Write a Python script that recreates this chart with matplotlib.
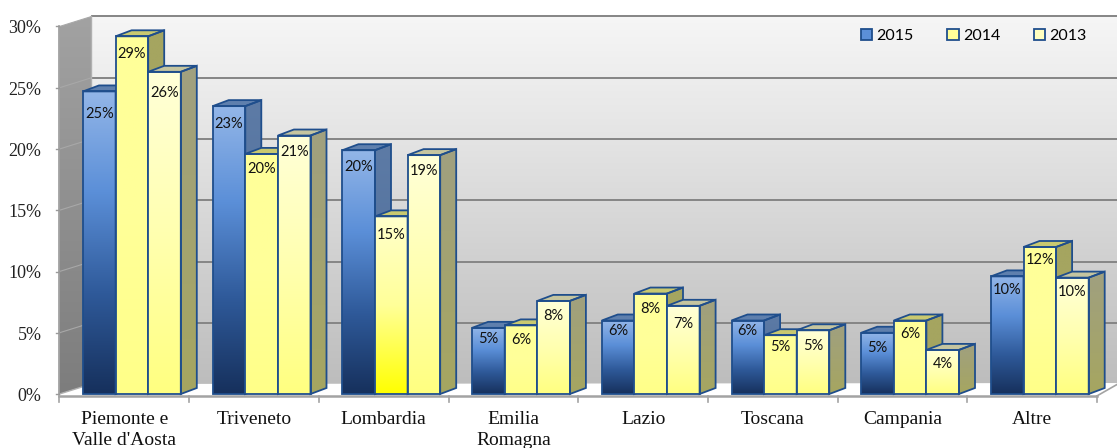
import numpy as np
import matplotlib
matplotlib.use('Agg')
import matplotlib.pyplot as plt
from matplotlib.colors import LinearSegmentedColormap
from matplotlib.patches import Polygon, Patch

# dati
categorie = ['Piemonte e\nValle d\'Aosta', 'Triveneto', 'Lombardia', 'Emilia\nRomagna',
             'Lazio', 'Toscana', 'Campania', 'Altre']
anni = ['2015', '2014', '2013']
val_2015 = [24.7, 23.5, 19.9, 5.4, 6.0, 6.0, 5.0, 9.6]
val_2014 = [29.2, 19.6, 14.5, 5.6, 8.2, 4.8, 6.0, 12.0]
val_2013 = [26.3, 21.1, 19.5, 7.6, 7.2, 5.2, 3.6, 9.5]
etich_2015 = ['25%', '23%', '20%', '5%', '6%', '6%', '5%', '10%']
etich_2014 = ['29%', '20%', '15%', '6%', '8%', '5%', '6%', '12%']
etich_2013 = ['26%', '21%', '19%', '8%', '7%', '5%', '4%', '10%']
tick_y = [0, 5, 10, 15, 20, 25, 30]

# distanza delle etichette dalla cima della barra, in pixel
scost_2015 = [23, 18, 17, 11, 10, 10, 15, 14]
scost_2014 = [18, 15, 19, 15, 15, 12, 13, 13]
scost_2013 = [21, 16, 16, 15, 18, 16, 14, 14]

W, H = 1117, 448
PX_CAT = 129.7    # pixel per categoria
PX_PCT = 12.25    # pixel per punto percentuale
X0, Y0 = 59.5, 394.0
FONDO_X, FONDO_Y = 32 / PX_CAT, 10 / PX_PCT   # profondita' pareti
LATO_X, LATO_Y = 16 / PX_CAT, 6 / PX_PCT      # profondita' barre
BAR_X0, BAR_W = 23.5 / PX_CAT, 32.6 / PX_CAT
BORDO = '#1f4e8c'

fig = plt.figure(figsize=(W / 100, H / 100), dpi=100)
ax = fig.add_axes([0, 0, 1, 1])
ax.axis('off')
lim_x = (-X0 / PX_CAT, (W - X0) / PX_CAT)
lim_y = ((Y0 - H) / PX_PCT, Y0 / PX_PCT)


def sfuma(vertici, colori, z):
    # poligono riempito con una sfumatura verticale, primo colore in alto
    vertici = np.array(vertici)
    cmap = LinearSegmentedColormap.from_list('s', colori)
    est = [vertici[:, 0].min(), vertici[:, 0].max(), vertici[:, 1].min(), vertici[:, 1].max()]
    img = ax.imshow(np.linspace(0, 1, 256).reshape(-1, 1), cmap=cmap, extent=est,
                    aspect='auto', zorder=z, vmin=0, vmax=1, interpolation='bilinear')
    pol = Polygon(vertici, closed=True, fc='none', ec='none', transform=ax.transData)
    ax.add_patch(pol)
    img.set_clip_path(pol)


def colonna(x, v, stili, z):
    # una barra: fronte, lato e faccia superiore
    fronte, lato, sopra = stili
    x1 = x + BAR_W
    sfuma([(x1, 0), (x1 + LATO_X, LATO_Y), (x1 + LATO_X, v + LATO_Y), (x1, v)], lato, z)
    sfuma([(x, v), (x1, v), (x1 + LATO_X, v + LATO_Y), (x + LATO_X, v + LATO_Y)], [sopra, sopra], z)
    sfuma([(x, 0), (x1, 0), (x1, v), (x, v)], fronte, z + 0.1)
    for pts in ([(x1, 0), (x1 + LATO_X, LATO_Y), (x1 + LATO_X, v + LATO_Y), (x1, v)],
                [(x, v), (x1, v), (x1 + LATO_X, v + LATO_Y), (x + LATO_X, v + LATO_Y)],
                [(x, 0), (x1, 0), (x1, v), (x, v)]):
        ax.add_patch(Polygon(pts, closed=True, fc='none', ec=BORDO, lw=1.3, zorder=z + 0.2))


n = len(categorie)
fine = lim_x[1] + 0.1

# pareti e pavimento
sfuma([(FONDO_X, FONDO_Y), (fine, FONDO_Y), (fine, 30 + FONDO_Y), (FONDO_X, 30 + FONDO_Y)],
      ['#f6f6f6', '#e4e4e4', '#d0d0d0', '#bdbdbd'], 1)
sfuma([(0, 0), (FONDO_X, FONDO_Y), (FONDO_X, 30 + FONDO_Y), (0, 30)], ['#a2a2a2', '#7d7d7d'], 1)
ax.add_patch(Polygon([(0, 0), (n, 0), (fine, FONDO_Y * 1.1), (FONDO_X, FONDO_Y)],
                     closed=True, fc='white', ec='none', zorder=1.5))
for t in tick_y[1:]:
    ax.plot([FONDO_X, fine], [t + FONDO_Y, t + FONDO_Y], color='#858585', lw=1.4, zorder=2)
    ax.plot([0, FONDO_X], [t, t + FONDO_Y], color='#a8a8a8', lw=0.8, zorder=2)
ax.plot([0, FONDO_X, FONDO_X], [0, FONDO_Y, 30 + FONDO_Y], color='#b0b0b0', lw=1, zorder=2)

# assi
ax.plot([0, 0], [0, 30], color='#9a9a9a', lw=1.2, zorder=2)
ax.plot([0, n], [-0.15, -0.15], color='#a3a3a3', lw=1.8, zorder=2)
ax.plot([n, n + 0.16], [-0.15, FONDO_Y], color='#a3a3a3', lw=1.2, zorder=2)
for i in range(n + 1):
    ax.plot([i, i], [-0.15, -0.65], color='#a3a3a3', lw=1.2, zorder=2)
for t in tick_y:
    ax.plot([-0.03, 0], [t, t], color='#9a9a9a', lw=1, zorder=2)
    ax.text(-18 / PX_CAT, t - 0.2, '%d%%' % t, ha='right', va='center', fontsize=13,
            family='Liberation Serif', color='#222222', zorder=6)
for i, c in enumerate(categorie):
    ax.text(i + 0.5, -1.4, c, ha='center', va='top', fontsize=14, linespacing=1.3,
            family='Liberation Serif', color='#111111', zorder=6)

# barre
blu = (['#93b6e8', '#5b8fd8', '#2f5a9a', '#16305c'], ['#5d7ba6', '#4a6a96'], '#5f80ae')
giallo = (['#ffff99', '#ffff99', '#ffff88'], ['#a5a560', '#a5a560'], '#c9c970')
giallo_forte = (['#ffffcc', '#ffff99', '#ffff00'], ['#a5a560', '#a5a560'], '#c9c970')
chiaro = (['#ffffd8', '#ffffb0', '#ffff80'], ['#a0a080', '#a6a660'], '#c5c5a0')
serie = [(val_2015, etich_2015, scost_2015, blu), (val_2014, etich_2014, scost_2014, giallo),
         (val_2013, etich_2013, scost_2013, chiaro)]
for i in range(n):
    z = 3
    for j, (valori, etich, scost, stile) in enumerate(serie):
        if j == 1 and categorie[i] == 'Lombardia':
            stile = giallo_forte
        x = i + BAR_X0 + j * BAR_W
        colonna(x, valori[i], stile, z)
        z += 1
for i in range(n):
    for j, (valori, etich, scost, stile) in enumerate(serie):
        x = i + BAR_X0 + j * BAR_W + BAR_W / 2
        ax.annotate(etich[i], (x, valori[i]), xytext=(0, -scost[i] * 0.72), textcoords='offset points',
                    ha='center', va='center', fontsize=10.5, family='Lato', color='#111111', zorder=8)

# legenda
handles = [Patch(fc=c, ec=BORDO, lw=1.3) for c in ('#5b8fd8', '#ffff99', '#ffffc0')]
leg = ax.legend(handles, anni, ncol=3, frameon=False, loc='upper left',
                bbox_to_anchor=(861 / W, 1 - 29 / H), prop={'family': 'Lato', 'size': 11.5},
                handlelength=0.72, handleheight=0.72, handletextpad=0.25, columnspacing=2.1,
                borderpad=0, borderaxespad=0)
leg.set_zorder(9)

ax.set_xlim(lim_x)
ax.set_ylim(lim_y)
fig.savefig('out.png', dpi=100)
